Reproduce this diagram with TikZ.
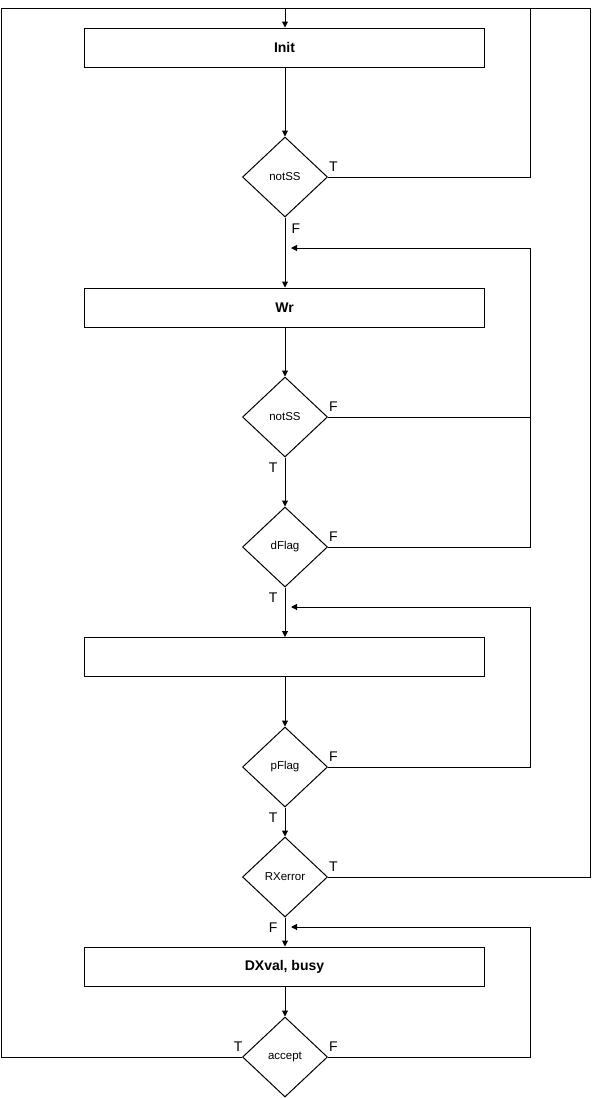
\documentclass[tikz,border=0pt]{standalone}
\usepackage{fontspec}
\setmainfont{Liberation Sans}
\usetikzlibrary{shapes.geometric,arrows.meta}

\begin{document}
\begin{tikzpicture}[x=1pt,y=-1pt,line width=1pt,
    box/.style={draw,rectangle,minimum width=400pt,minimum height=39pt,inner sep=0pt,font=\fontsize{14}{16}\selectfont\bfseries},
    cond/.style={draw,diamond,minimum width=85pt,minimum height=80pt,inner sep=0pt,font=\fontsize{11.5}{13}\selectfont},
    lbl/.style={inner sep=0pt,font=\fontsize{14}{16}\selectfont},
    arr/.style={-{Triangle[length=6pt,width=6pt]}}]
            \useasboundingbox (0,0) rectangle (592,1098);
            % blocks and conditions
            \node[box] (init) at (284.5,47.5) {Init};
            \node[cond] (c1) at (285,177) {notSS};
            \node[box] (wr) at (284.5,307.5) {Wr};
            \node[cond] (c2) at (285,417) {notSS};
            \node[cond] (dflag) at (285,547) {dFlag};
            \node[box] (empty) at (284.5,657) {};
            \node[cond] (pflag) at (285,767) {pFlag};
            \node[cond] (rxerr) at (285,877) {RXerror};
            \node[box] (dxval) at (284.5,966.5) {DXval, busy};
            \node[cond] (accept) at (285,1057) {accept};
            % rails
            \coordinate (top) at (285,8);
            \coordinate (ne) at (530,8);
            \coordinate (fe) at (590,8);
            \coordinate (nw) at (1,8);
            \coordinate (back1) at (291,248);
            \coordinate (back2) at (291,607);
            \coordinate (back3) at (291,927);
            % main flow
            \draw[arr] (top) -- (top |- init.north);
            \draw[arr] (c1 |- init.south) -- (c1);
            \draw[arr] (c1) -- (c1 |- wr.north);
            \draw[arr] (c2 |- wr.south) -- (c2);
            \draw[arr] (c2) -- (dflag);
            \draw[arr] (dflag) -- (dflag |- empty.north);
            \draw[arr] (pflag |- empty.south) -- (pflag);
            \draw[arr] (pflag) -- (rxerr);
            \draw[arr] (rxerr) -- (rxerr |- dxval.north);
            \draw[arr] (accept |- dxval.south) -- (accept);
            % loops back
            \draw (c1.east) -| (ne) -- (top);
            \draw (rxerr.east) -| (fe) -- (ne);
            \draw (accept.west) -| (nw) -- (top);
            \draw[arr] (c2.east) -- (c2.east -| ne) |- (back1);
            \draw (dflag.east) -- (dflag.east -| ne) -- (c2.east -| ne);
            \draw[arr] (pflag.east) -- (pflag.east -| ne) |- (back2);
            \draw[arr] (accept.east) -- (accept.east -| ne) |- (back3);
            % T / F
            \node[lbl,anchor=south west] at ([xshift=0.5pt,yshift=5pt]c1.east) {T};
            \node[lbl,anchor=north west] at ([xshift=6pt,yshift=-6pt]c1.south) {F};
            \node[lbl,anchor=south west] at ([xshift=0.5pt,yshift=5pt]c2.east) {F};
            \node[lbl,anchor=north east] at ([xshift=-7pt,yshift=-5pt]c2.south) {T};
            \node[lbl,anchor=south west] at ([xshift=0.5pt,yshift=5pt]dflag.east) {F};
            \node[lbl,anchor=north east] at ([xshift=-7pt,yshift=-5pt]dflag.south) {T};
            \node[lbl,anchor=south west] at ([xshift=0.5pt,yshift=5pt]pflag.east) {F};
            \node[lbl,anchor=north east] at ([xshift=-7pt,yshift=-5pt]pflag.south) {T};
            \node[lbl,anchor=south west] at ([xshift=0.5pt,yshift=5pt]rxerr.east) {T};
            \node[lbl,anchor=north east] at ([xshift=-7pt,yshift=-5pt]rxerr.south) {F};
            \node[lbl,anchor=south east] at ([xshift=1pt,yshift=5pt]accept.west) {T};
            \node[lbl,anchor=south west] at ([xshift=0.5pt,yshift=5pt]accept.east) {F};
        \end{tikzpicture}
\end{document}
